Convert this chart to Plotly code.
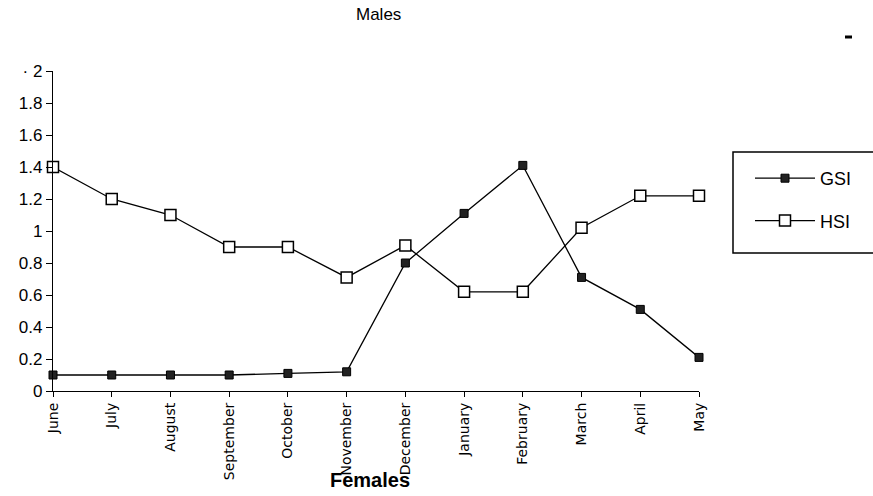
import plotly.graph_objects as go

months = ["June", "July", "August", "September", "October", "November",
          "December", "January", "February", "March", "April", "May"]
gsi = [0.10, 0.10, 0.10, 0.10, 0.11, 0.12, 0.80, 1.11, 1.41, 0.71, 0.51, 0.21]
hsi = [1.40, 1.20, 1.10, 0.90, 0.90, 0.71, 0.91, 0.62, 0.62, 1.02, 1.22, 1.22]
ytick_vals = [0, 0.2, 0.4, 0.6, 0.8, 1.0, 1.2, 1.4, 1.6, 1.8, 2.0]
ytick_text = ["0", "0.2", "0.4", "0.6", "0.8", "1", "1.2", "1.4", "1.6", "1.8", "· 2"]

W, H = 873, 496
L, R, T, B = 53, 174, 71, 105
pw, ph = W - L - R, H - T - B

def px_x(x):
    return (x - L) / pw

def px_y(y):
    return (H - B - y) / ph

fig = go.Figure()
fig.add_trace(go.Scatter(
    x=months, y=gsi, name="GSI", mode="lines+markers", legendgroup="g",
    line=dict(color="black", width=1.3),
    marker=dict(symbol="square", size=8, color="#222",
                line=dict(color="black", width=1)),
    cliponaxis=False))
fig.add_trace(go.Scatter(
    x=months, y=hsi, name="HSI", mode="lines+markers", legendgroup="h",
    line=dict(color="black", width=1.3),
    marker=dict(symbol="square", size=11, color="white",
                line=dict(color="black", width=1.5)),
    cliponaxis=False))

fig.update_layout(
    width=W, height=H,
    margin=dict(l=L, r=R, t=T, b=B, autoexpand=False),
    paper_bgcolor="white", plot_bgcolor="white",
    showlegend=True,
    legend=dict(x=px_x(750), y=px_y(160), xanchor="left", yanchor="top",
                bgcolor="rgba(0,0,0,0)", borderwidth=0,
                font=dict(family="Liberation Sans, Arial", size=18, color="black"),
                tracegroupgap=16, itemwidth=60),
    xaxis=dict(type="category", categoryorder="array", categoryarray=months,
               range=[0, 11], showgrid=False, zeroline=False,
               showline=True, linecolor="black", linewidth=1.3,
               ticks="outside", ticklen=5, tickwidth=1.2, tickcolor="black",
               tickangle=-90,
               tickfont=dict(family="DejaVu Sans", size=14, color="black")),
    yaxis=dict(range=[0, 2], tickvals=ytick_vals, ticktext=ytick_text,
               showgrid=False, zeroline=False,
               showline=True, linecolor="black", linewidth=1.3,
               ticks="outside", ticklen=6, tickwidth=1.2, tickcolor="black",
               tickfont=dict(family="Liberation Sans, Arial", size=17, color="black")),
    shapes=[
        dict(type="rect", xref="paper", yref="paper",
             x0=px_x(733), x1=px_x(885), y0=px_y(253), y1=px_y(152),
             line=dict(color="black", width=1.5)),
        dict(type="line", xref="paper", yref="paper",
             x0=px_x(845), x1=px_x(852), y0=px_y(37), y1=px_y(37),
             line=dict(color="black", width=3)),
    ],
    annotations=[
        dict(text="Males", xref="paper", yref="paper",
             x=px_x(378), y=px_y(15), xanchor="center", yanchor="middle",
             showarrow=False,
             font=dict(family="Liberation Sans, Arial", size=17, color="black")),
        dict(text="<b>Females</b>", xref="paper", yref="paper",
             x=px_x(370), y=px_y(480), xanchor="center", yanchor="middle",
             showarrow=False,
             font=dict(family="Liberation Sans Narrow, Liberation Sans, Arial", size=20, color="black")),
    ],
)

fig.write_html("out.html", config={"displayModeBar": False},
               post_script="document.body.style.margin='0';document.body.style.overflow='hidden';")
